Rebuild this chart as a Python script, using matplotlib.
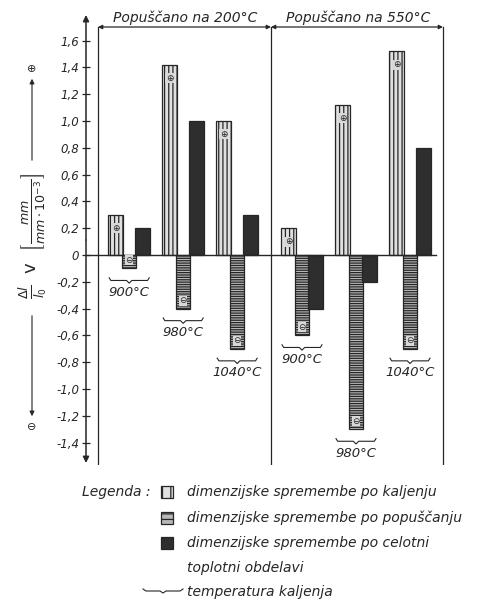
import matplotlib.pyplot as plt
import matplotlib.patches as mpatches
import numpy as np

plt.rcParams['font.family'] = 'DejaVu Sans'
plt.rcParams['hatch.linewidth'] = 0.9

# dimensional change, mm/mm * 10^-3
temper_labels = ['Popuščano na 200°C', 'Popuščano na 550°C']
quench_temps = ['900°C', '980°C', '1040°C', '900°C', '980°C', '1040°C']
after_quench = [0.3, 1.42, 1.0, 0.2, 1.12, 1.52]
after_temper = [-0.1, -0.4, -0.7, -0.6, -1.3, -0.7]
after_total = [0.2, 1.0, 0.3, -0.4, -0.2, 0.8]
yticks = [1.6, 1.4, 1.2, 1.0, 0.8, 0.6, 0.4, 0.2, 0, -0.2, -0.4, -0.6, -0.8,
          -1.0, -1.2, -1.4]

ink = '#262626'
fig = plt.figure(figsize=(4.81, 6.0), dpi=100)
ax = fig.add_axes([86 / 481, 135 / 600, 359 / 481, 450 / 600])
ax.set_xlim(0, 359 / 54)
ax.set_ylim(-210 / 134, 240 / 134)

centers = np.array([0.8, 1.8, 2.8, 4.0, 5.0, 6.0])
off, w = 0.25, 0.27

ax.bar(centers - off, after_quench, w, facecolor='#e0e0e0', edgecolor=ink,
       hatch='||||', linewidth=0.9, zorder=3)
ax.bar(centers, after_temper, w, facecolor='#b8b8b8', edgecolor=ink,
       hatch='-------', linewidth=0.9, zorder=3)
ax.bar(centers + off, after_total, w, facecolor='#2e2e2e', edgecolor=ink,
       linewidth=0.9, zorder=3)

# sign marks near the bar ends
for x, v in zip(centers - off, after_quench):
    ax.text(x, v - 0.1, '⊕', ha='center', va='center', fontsize=6.5,
            color=ink, zorder=5,
            bbox=dict(boxstyle='square,pad=0.05', fc='#d8d8d8', ec='none'))
for x, v in zip(centers, after_temper):
    ax.text(x, v + 0.06, '⊖', ha='center', va='center', fontsize=6.5,
            color=ink, zorder=5,
            bbox=dict(boxstyle='square,pad=0.05', fc='#d8d8d8', ec='none'))

# zero line
ax.plot([0, 6.48], [0, 0], color=ink, lw=1.0, zorder=4)

# panel frame with dimension arrows
top = 228 / 134
bottom = -210 / 134
for xv in [12 / 54, 185 / 54, 357 / 54]:
    ax.plot([xv, xv], [bottom, top], color=ink, lw=0.9, zorder=2)
bounds = [(12 / 54, 185 / 54), (185 / 54, 357 / 54)]
for (x0, x1), lab in zip(bounds, temper_labels):
    ax.annotate('', xy=(x0, top), xytext=(x1, top),
                arrowprops=dict(arrowstyle='<|-|>', color=ink, lw=0.9,
                                mutation_scale=6, shrinkA=0, shrinkB=0))
    ax.text((x0 + x1) / 2 + 0.02, top + 0.015, lab, ha='center', va='bottom',
            fontsize=10, style='italic', color=ink)

# quench temperature braces
for i, c in enumerate(centers):
    vals = [after_quench[i], after_temper[i], after_total[i], 0]
    by = min(vals) - 0.09
    x0, x1 = c - 0.37, c + 0.37
    bx = [x0, x0 + 0.03, c - 0.05, c, c + 0.05, x1 - 0.03, x1]
    byy = [by + 0.02, by, by, by - 0.02, by, by, by + 0.02]
    ax.plot(bx, byy, color=ink, lw=0.8)
    ax.text(c, by - 0.04, quench_temps[i], ha='center', va='top',
            fontsize=9.5, style='italic', color=ink)

# y axis with arrows at both ends
ax.annotate('', xy=(0, 1.0), xytext=(0, 0.5), xycoords='axes fraction',
            arrowprops=dict(arrowstyle='-|>', color=ink, lw=1.1,
                            mutation_scale=9, shrinkA=0, shrinkB=0))
ax.annotate('', xy=(0, 2 / 450), xytext=(0, 0.5), xycoords='axes fraction',
            arrowprops=dict(arrowstyle='-|>', color=ink, lw=1.1,
                            mutation_scale=9, shrinkA=0, shrinkB=0))
for s in ax.spines.values():
    s.set_visible(False)
ax.set_xticks([])
ax.set_yticks(yticks)
ax.set_yticklabels([('%.1f' % t).replace('.', ',') if t != 0 else '0'
                    for t in yticks], style='italic', fontsize=8.5, color=ink)
ax.tick_params(axis='y', direction='inout', length=6, width=0.9, color=ink,
               pad=2)

# axis title with sign arrows
fig.text(33 / 481, 1 - 236 / 600,
         r'$\frac{\Delta l}{l_0}$  v  $\left[\frac{mm}{mm\cdot 10^{-3}}\right]$',
         rotation=90, ha='center', va='center', fontsize=13, color=ink)
fig.add_artist(mpatches.FancyArrowPatch((32 / 481, 1 - 163 / 600),
                                        (32 / 481, 1 - 76 / 600),
                                        transform=fig.transFigure,
                                        arrowstyle='-|>', mutation_scale=7,
                                        color=ink, lw=0.8))
fig.add_artist(mpatches.FancyArrowPatch((32 / 481, 1 - 313 / 600),
                                        (32 / 481, 1 - 419 / 600),
                                        transform=fig.transFigure,
                                        arrowstyle='-|>', mutation_scale=7,
                                        color=ink, lw=0.8))
fig.text(32 / 481, 1 - 69 / 600, '⊕', ha='center', va='center', fontsize=8,
         color=ink)
fig.text(32 / 481, 1 - 427 / 600, '⊖', ha='center', va='center', fontsize=8,
         color=ink)

# legend
fs = 10
fig.text(82 / 481, 1 - 492 / 600, 'Legenda :', ha='left', va='center',
         fontsize=fs, style='italic', color=ink)
swatches = [dict(facecolor='#e0e0e0', hatch='||'),
            dict(facecolor='#b8b8b8', hatch='---'),
            dict(facecolor='#2e2e2e', hatch=None)]
legend_rows = ['dimenzijske spremembe po kaljenju',
               'dimenzijske spremembe po popuščanju',
               'dimenzijske spremembe po celotni']
for k, (sw, txt) in enumerate(zip(swatches, legend_rows)):
    yp = [492, 518, 543][k]
    fig.add_artist(mpatches.Rectangle((161 / 481, 1 - (yp + 6) / 600),
                                      12 / 481, 12 / 600,
                                      transform=fig.transFigure,
                                      edgecolor=ink, lw=0.9, **sw))
    fig.text(187 / 481, 1 - yp / 600, txt, ha='left', va='center',
             fontsize=fs, style='italic', color=ink)
fig.text(187 / 481, 1 - 568 / 600, 'toplotni obdelavi', ha='left',
         va='center', fontsize=fs, style='italic', color=ink)
lx = np.array([143, 146, 160, 163, 166, 180, 183]) / 481
ly = 1 - np.array([589, 591, 591, 593, 591, 591, 589]) / 600
fig.add_artist(plt.Line2D(lx, ly, transform=fig.transFigure, color=ink,
                          lw=0.8))
fig.text(187 / 481, 1 - 592 / 600, 'temperatura kaljenja', ha='left',
         va='center', fontsize=fs, style='italic', color=ink)

fig.savefig('out.png', dpi=100)
